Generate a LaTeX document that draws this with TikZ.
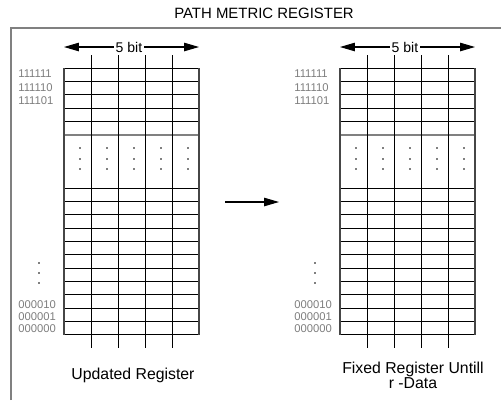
\documentclass[tikz,border=0pt]{standalone}
\usepackage{fontspec}
\setmainfont{Liberation Sans}
\usetikzlibrary{arrows.meta}
\definecolor{framegray}{RGB}{128,128,128}
\definecolor{labelgray}{RGB}{125,125,125}
\definecolor{gridgray}{RGB}{70,70,70}

\begin{document}
\begin{tikzpicture}[x=0.02cm, y=-0.02cm,
  reglabel/.style={anchor=west, font=\fontsize{6.4}{7}\selectfont, text=labelgray, inner sep=0pt},
  bitlabel/.style={font=\fontsize{8}{9}\selectfont, fill=white, inner sep=1pt},
  caption/.style={font=\fontsize{9}{8.5}\selectfont, align=center},
  bigarrow/.style={-{Triangle[length=0.3cm, width=0.17cm]}, line width=0.6pt},
  rowline/.style={black, line width=0.55pt}]

  \useasboundingbox (0,0) rectangle (501,400);

  % Title
  \node[font=\fontsize{8.5}{10}\selectfont] (title) at (264,13) {PATH METRIC REGISTER};

  % Outer frame (runs off the page)
  \draw[framegray, line width=1.2pt] (11,400) -- (11,28) -- (501,28);

  \def\rowh{13.36}
  \def\colw{27}

  % Both registers
  \foreach \ox in {64,340} {
    % top rows
    \foreach \k in {0,...,4}
      \draw[rowline] (\ox,68+\k*\rowh) -- ++(5*\colw,0);
    \draw[framegray, line width=0.9pt] (\ox,68+5*\rowh) -- ++(5*\colw,0);
    % bottom rows
    \foreach \k in {0,...,11}
      \draw[rowline] (\ox,188+\k*\rowh) -- ++(5*\colw,0);
    % outer sides
    \draw[gridgray, line width=0.6pt] (\ox,68) -- (\ox,335);
    \draw[gridgray, line width=0.6pt] (\ox+5*\colw,68) -- (\ox+5*\colw,335);
    % bit columns
    \foreach \c in {1,...,4}
      \draw[rowline] (\ox+\c*\colw,55) -- (\ox+\c*\colw,348);
    % skipped rows
    \foreach \c in {0,...,4}
      \foreach \dy in {148,159,169}
        \fill[gray] (\ox+\c*\colw+15,\dy-1) rectangle ++(2,2);
    \foreach \dy in {263,273,283}
      \fill[gray] (\ox-26,\dy-1) rectangle ++(2,2);
    % row addresses
    \node[reglabel] (a111111-\ox) at (\ox-46,74) {111111};
    \node[reglabel] (a111110-\ox) at (\ox-46,87.5) {111110};
    \node[reglabel] (a111101-\ox) at (\ox-46,101) {111101};
    \node[reglabel] (a000010-\ox) at (\ox-46,305) {000010};
    \node[reglabel] (a000001-\ox) at (\ox-46,317) {000001};
    \node[reglabel] (a000000-\ox) at (\ox-46,328.5) {000000};
    % width arrows
    \coordinate (bitA-\ox) at (\ox,47);
    \coordinate (bitB-\ox) at (\ox+5*\colw,47);
    \node[bitlabel] (bit-\ox) at (\ox+65,47) {5 bit};
    \draw[bigarrow] (bit-\ox) -- (bitA-\ox);
    \draw[bigarrow] (bit-\ox) -- (bitB-\ox);
  }

  % Captions
  \node[caption] (capL) at (133,375) {Updated Register};
  \node[caption] (capR) at (413,375) {Fixed Register Untill\\r -Data};

  % Transfer arrow
  \coordinate (fromL) at (225,202);
  \coordinate (toR) at (279,202);
  \draw[bigarrow] (fromL) -- (toR);

\end{tikzpicture}
\end{document}
